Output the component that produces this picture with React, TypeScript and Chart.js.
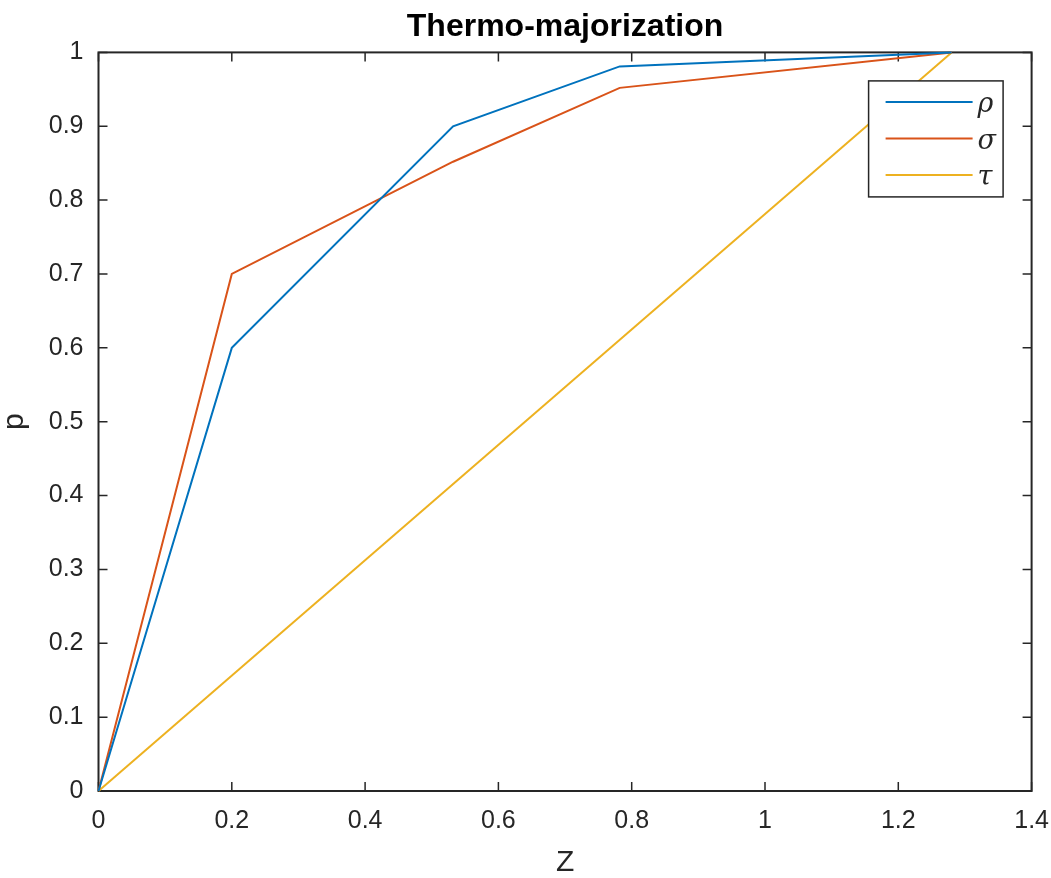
import React, { useEffect, useRef } from "react";
import { Chart, registerables } from "chart.js";

Chart.register(...registerables);

// ---- data ----
const rhoX = [0, 0.2, 0.532, 0.782, 1.28];
const rhoY = [0, 0.6, 0.9, 0.981, 1.0];
const sigmaX = [0, 0.2, 0.532, 0.782, 1.28];
const sigmaY = [0, 0.7, 0.852, 0.952, 1.0];
const tauX = [0, 1.28];
const tauY = [0, 1.0];

const seriesNames = ["\u03C1", "\u03C3", "\u03C4"];
const seriesColors = ["#0072BD", "#D95319", "#EDB120"];

const xTicks = [0, 0.2, 0.4, 0.6, 0.8, 1, 1.2, 1.4];
const yTicks = [0, 0.1, 0.2, 0.3, 0.4, 0.5, 0.6, 0.7, 0.8, 0.9, 1];

const titleText = "Thermo-majorization";
const xLabel = "Z";
const yLabel = "p";

const AXIS_COLOR = "#262626";
const TICK_FONT = "'Liberation Sans', Arial, sans-serif";

const pts = (xs: number[], ys: number[]) => xs.map((x, i) => ({ x, y: ys[i] }));

const matlabAxes = {
  id: "matlabAxes",
  beforeDatasetsDraw(chart: any) {
    const { ctx, chartArea, scales } = chart;
    const { left, right, top, bottom } = chartArea;
    const tl = 9;
    ctx.save();
    ctx.strokeStyle = AXIS_COLOR;
    ctx.lineWidth = 1.5;
    ctx.beginPath();
    for (const v of xTicks) {
      const px = scales.x.getPixelForValue(v);
      ctx.moveTo(px, bottom);
      ctx.lineTo(px, bottom - tl);
      ctx.moveTo(px, top);
      ctx.lineTo(px, top + tl);
    }
    for (const v of yTicks) {
      const py = scales.y.getPixelForValue(v);
      ctx.moveTo(left, py);
      ctx.lineTo(left + tl, py);
      ctx.moveTo(right, py);
      ctx.lineTo(right - tl, py);
    }
    ctx.stroke();
    ctx.lineWidth = 2;
    ctx.strokeRect(left, top, right - left, bottom - top);
    ctx.restore();
  },
  afterDatasetsDraw(chart: any) {
    const { ctx, chartArea } = chart;
    const bx = chartArea.right - 163;
    const by = chartArea.top + 28.5;
    const bw = 134.5;
    const bh = 116;
    ctx.save();
    ctx.fillStyle = "#ffffff";
    ctx.fillRect(bx, by, bw, bh);
    ctx.strokeStyle = AXIS_COLOR;
    ctx.lineWidth = 1.5;
    ctx.strokeRect(bx, by, bw, bh);
    const rowGap = 36.6;
    chart.data.datasets.forEach((ds: any, i: number) => {
      const y = by + 21 + i * rowGap;
      ctx.strokeStyle = ds.borderColor;
      ctx.lineWidth = 2;
      ctx.beginPath();
      ctx.moveTo(bx + 17, y);
      ctx.lineTo(bx + 104, y);
      ctx.stroke();
      ctx.fillStyle = AXIS_COLOR;
      ctx.font = "italic 27px 'DejaVu Serif', 'Liberation Serif', serif";
      ctx.textAlign = "left";
      ctx.textBaseline = "alphabetic";
      ctx.fillText(ds.label, bx + 109, y + 10);
    });
    ctx.restore();
  },
};

export default function App() {
  const ref = useRef<HTMLCanvasElement | null>(null);
  useEffect(() => {
    if (!ref.current) return;
    const chart = new Chart(ref.current, {
      type: "line",
      data: {
        datasets: [
          { label: seriesNames[0], data: pts(rhoX, rhoY), borderColor: seriesColors[0], backgroundColor: seriesColors[0] },
          { label: seriesNames[1], data: pts(sigmaX, sigmaY), borderColor: seriesColors[1], backgroundColor: seriesColors[1] },
          { label: seriesNames[2], data: pts(tauX, tauY), borderColor: seriesColors[2], backgroundColor: seriesColors[2] },
        ].map((d) => ({ ...d, borderWidth: 2, pointRadius: 0, tension: 0, fill: false, clip: 4 })) as any,
      },
      options: {
        responsive: false,
        animation: false,
        devicePixelRatio: 1,
        layout: { padding: { left: 0, right: 19.4, top: 0, bottom: 0 } },
        plugins: {
          legend: { display: false },
          tooltip: { enabled: false },
          title: {
            display: true,
            text: titleText,
            fullSize: false,
            color: "#000000",
            font: { family: TICK_FONT, size: 32, weight: "bold", lineHeight: 1.2 },
            padding: { top: 8, bottom: 6 },
          },
        },
        scales: {
          x: {
            type: "linear",
            min: 0,
            max: 1.4,
            grid: { display: false, drawTicks: false },
            border: { display: false },
            afterBuildTicks: (scale: any) => {
              scale.ticks = xTicks.map((v) => ({ value: v }));
            },
            afterFit: (scale: any) => {
              scale.height = 87;
              scale.paddingLeft = 0;
              scale.paddingRight = 0;
            },
            ticks: {
              color: AXIS_COLOR,
              padding: 15,
              maxRotation: 0,
              autoSkip: false,
              font: { family: TICK_FONT, size: 25 },
              callback: (v: any) => String(v),
            },
            title: {
              display: true,
              text: xLabel,
              color: AXIS_COLOR,
              font: { family: TICK_FONT, size: 30, lineHeight: 1 },
              padding: { top: 0, bottom: 0 },
            },
          },
          y: {
            type: "linear",
            min: 0,
            max: 1,
            grid: { display: false, drawTicks: false },
            border: { display: false },
            afterBuildTicks: (scale: any) => {
              scale.ticks = yTicks.map((v) => ({ value: v }));
            },
            afterFit: (scale: any) => {
              scale.width = 98.5;
              scale.paddingTop = 0;
              scale.paddingBottom = 0;
            },
            ticks: {
              color: AXIS_COLOR,
              padding: 15,
              autoSkip: false,
              font: { family: TICK_FONT, size: 25 },
              callback: (v: any) => String(v),
            },
            title: {
              display: true,
              text: yLabel,
              color: AXIS_COLOR,
              font: { family: TICK_FONT, size: 30, lineHeight: 1 },
              padding: { top: 0, bottom: 0 },
            },
          },
        },
      },
      plugins: [matlabAxes],
    });
    return () => chart.destroy();
  }, []);
  return (
    <div style={{ position: "fixed", left: 0, top: 0, width: 1051, height: 878, background: "#ffffff" }}>
      <canvas ref={ref} width={1051} height={878} style={{ width: 1051, height: 878, display: "block" }} />
    </div>
  );
}
